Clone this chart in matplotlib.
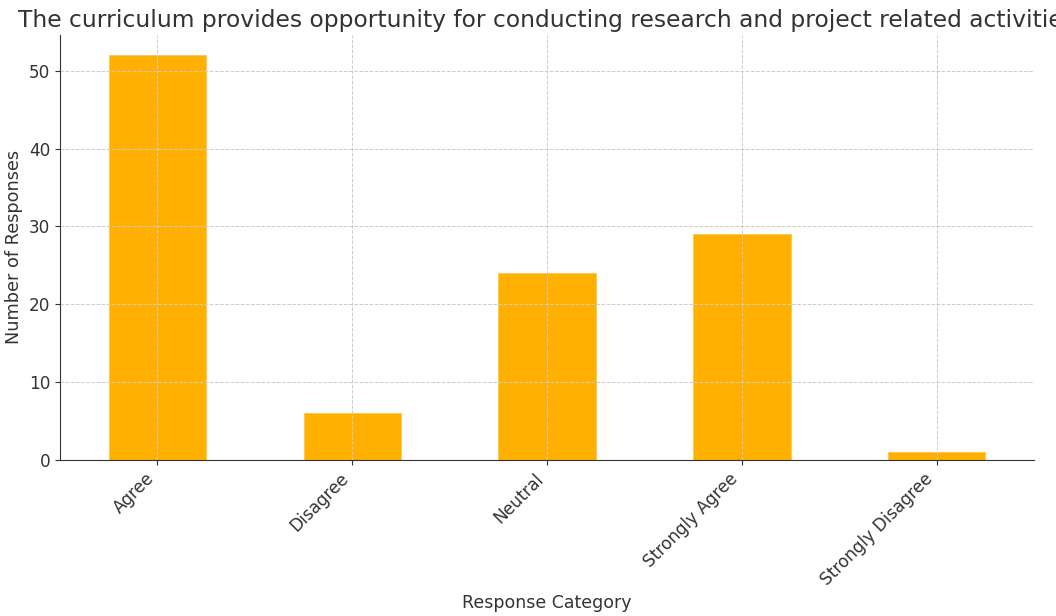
import matplotlib
matplotlib.use("Agg")
import matplotlib.pyplot as plt
import numpy as np

categorias = ["Agree", "Disagree", "Neutral", "Strongly Agree", "Strongly Disagree"]
respuestas = [52, 6, 24, 29, 1]
titulo = "The curriculum provides opportunity for conducting research and project related activities"

gris = "#333333"
plt.rcParams["text.color"] = gris
plt.rcParams["axes.labelcolor"] = gris
plt.rcParams["xtick.color"] = gris
plt.rcParams["ytick.color"] = gris

fig = plt.figure(figsize=(10.56, 6.16), dpi=100)
ax = fig.add_axes([60 / 1056, 1 - 460 / 616, (1034 - 60) / 1056, (460 - 35) / 616])

x = np.arange(len(categorias))
ax.bar(x, respuestas, width=0.5, color="#FFB000", edgecolor="#FFC64D", linewidth=0.6)
ax.set_xlim(-0.5, len(categorias) - 0.5)
ax.set_ylim(0, max(respuestas) * 1.05)
ax.set_xticks(x)
ax.set_xticklabels(categorias, rotation=45, ha="right", fontsize=12.2)
ax.tick_params(axis="y", labelsize=12.2)

# grid encima de las barras, como en el original
ax.grid(True, linestyle="--", color="#cccccc", linewidth=0.7)
ax.spines["top"].set_visible(False)
ax.spines["right"].set_visible(False)
ax.spines["left"].set_color(gris)
ax.spines["bottom"].set_color(gris)

# el titulo es mas ancho que la figura y se corta a la derecha, igual que en el original
ax.set_title(titulo, fontsize=16.8, color=gris)
ax.set_xlabel("Response Category", fontsize=12.5)
ax.set_ylabel("Number of Responses", fontsize=12.7)

fig.savefig("out.png", dpi=100)
